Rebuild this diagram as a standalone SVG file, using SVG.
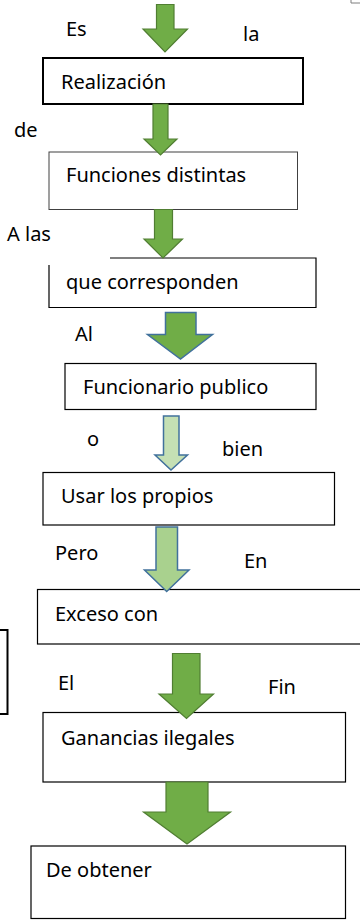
<svg xmlns="http://www.w3.org/2000/svg" width="360" height="922" viewBox="0 0 360 922">
<style>
text{font-family:"Noto Sans","Open Sans","Liberation Sans",sans-serif;font-size:20px;fill:#000}
.box{fill:#fff;stroke:#000;stroke-width:1.2}
.thick{stroke-width:2}
.gray{stroke:#404040;stroke-width:1}
.ag{fill:#70ad47;stroke:#507e32;stroke-width:1.2}
.ab{fill:#70ad47;stroke:#41719c;stroke-width:1.5}
.al{fill:#c5e0b4;stroke:#41719c;stroke-width:1.5}
.am{fill:#a9d18e;stroke:#41719c;stroke-width:1.5}
</style>
<rect width="360" height="922" fill="#fff"/>
<path d="M351,-1 V3 H361" fill="none" stroke="#7f7f7f" stroke-width="1"/>
<g id="side-box"><rect x="-10" y="630" width="17.5" height="84" fill="#fff" stroke="#000" stroke-width="2"/></g>
<g id="n1"><rect class="box thick" x="43" y="58" width="260" height="46"/><text x="61" y="89">Realización</text></g>
<g id="n2"><rect class="box gray" x="49" y="152" width="248.5" height="57.5"/><text x="66" y="182">Funciones distintas</text></g>
<g id="n3"><path class="box" d="M110,258 H316 V307.5 H49 V265"/><text x="66" y="288.5">que corresponden</text></g>
<g id="n4"><rect class="box" x="65" y="363.5" width="251" height="46"/><text x="83" y="394">Funcionario publico</text></g>
<g id="n5"><rect class="box" x="43" y="472.5" width="291.5" height="52.5"/><text x="61" y="503">Usar los propios</text></g>
<g id="n6"><rect class="box" x="37.5" y="589.5" width="330" height="54.5"/><text x="55" y="621">Exceso con</text></g>
<g id="n7"><rect class="box" x="43" y="712.5" width="302.5" height="69.5"/><text x="61" y="744.5">Ganancias ilegales</text></g>
<g id="n8"><rect class="box" x="31" y="846" width="314.5" height="72.5"/><text x="46" y="877">De obtener</text></g>
<g id="connectors">
<polygon class="ag" points="156.5,4.5 174,4.5 174,29 187.5,29 165,52 143,29 156.5,29"/>
<polygon class="ag" points="153,104 168,104 168,139 177,139 160.5,155 144,139 153,139"/>
<polygon class="ag" points="154.5,209.5 172.5,209.5 172.5,239 182.5,239 163,258 144,239 154.5,239"/>
<polygon class="ab" points="165.5,312.5 196,312.5 196,334.5 212.5,334.5 180.5,359 147.5,334.5 165.5,334.5"/>
<polygon class="al" points="163.5,416 179,416 179,455 187.5,455 171,470 155,455 163.5,455"/>
<polygon class="am" points="156,527 177.5,527 177.5,570 189,570 166.7,591.5 144.5,570 156,570"/>
<polygon class="ag" points="172.5,653.5 200,653.5 200,694 213.5,694 186.5,718.5 159,694 172.5,694"/>
<polygon class="ag" points="166,782 208,782 208,812 230.5,812 187,844 143.5,812 166,812"/>
<text x="66" y="36">Es</text>
<text x="243" y="41">la</text>
<text x="14" y="137">de</text>
<text x="7" y="241">A las</text>
<text x="75" y="341">Al</text>
<text x="87" y="446">o</text>
<text x="222" y="456">bien</text>
<text x="55" y="559.5">Pero</text>
<text x="244" y="568">En</text>
<text x="58" y="690">El</text>
<text x="268" y="694">Fin</text>
</g>
</svg>
